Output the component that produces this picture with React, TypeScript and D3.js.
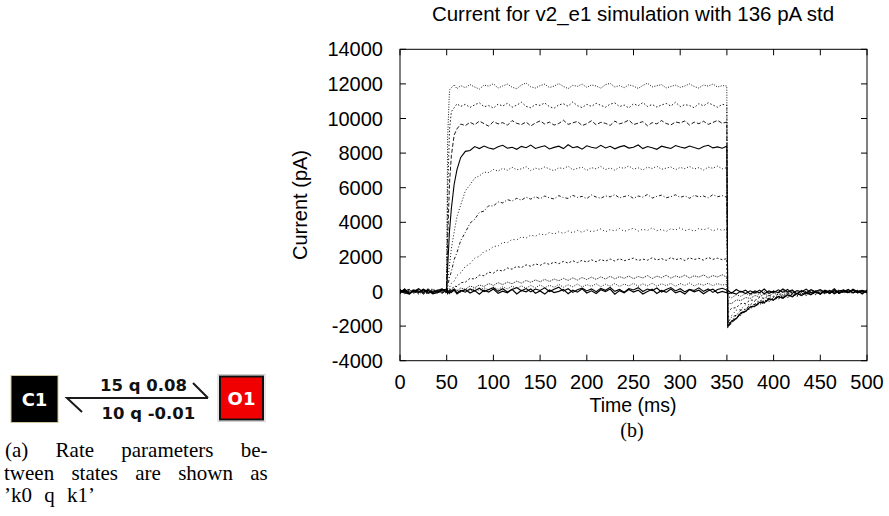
import React from "react";
import * as d3 from "d3";

// Sampling times (ms)
const TIME = [0,5,10,15,20,25,30,35,40,45,49.9,51,53,55,58,61,65,70,75,80,85,90,95,100,105,110,115,120,125,130,135,140,145,150,155,160,165,170,175,180,185,190,195,200,205,210,215,220,225,230,235,240,245,250,255,260,265,270,275,280,285,290,295,300,305,310,315,320,325,330,335,340,345,349.9,351,355,360,365,370,375,380,385,390,395,400,405,410,415,420,425,430,435,440,445,450,455,460,465,470,475,480,485,490,495,500];

// Current traces (pA)
const I_1 = [30,-120,90,-40,150,-180,60,-20,110,-90, 40, 8900,11650,11780,11950,11720,11900,
11780,11960,11820,11700,11930,11870,12010,11760,11880,11990,
11810,11720,11940,12050,11830,11760,11900,11980,11790,11870,
12020,11850,11730,11920,11860,11990,11800,11940,11880,11750,
11960,12030,11820,11900,11780,11950,11870,11740,11910,12040,
11830,11890,11960,11770,11850,11930,11800,11880,12000,11850,
11760,11940,11870,11990,11820,11900, 11880,
-2080,-1760,-1620,-1280,-1190,-900,-880,-640,-700,-450,-520,-300,-410,-180,-330,-90,-250,-40,-210,20,-150,60,-130,90,-120,40,-60,110,-90,30,-50];
const I_2 = [-80,110,-30,70,-150,40,130,-60,-10,90, -50, 5600,9350,10400,10620,10850,10700,
10820,10640,10790,10910,10680,10750,10600,10830,10720,10880,
10650,10770,10940,10700,10620,10810,10760,10900,10680,10590,
10790,10850,10710,10960,10740,10630,10820,10700,10880,10760,
10650,10830,10900,10690,10780,10610,10850,10740,10920,10700,
10810,10660,10780,10870,10720,10940,10690,10800,10750,10620,
10860,10730,10910,10780,10650,10820, 10760,
-1990,-1860,-1490,-1380,-1060,-1010,-760,-770,-540,-590,-380,-440,-250,-350,-160,-280,-100,-230,-50,-180,10,-140,50,-110,70,-90,30,-120,80,-40,20];
const I_3 = [60,-40,-130,100,20,-90,160,-70,40,-110, 70, 3000,6250,7850,9050,9400,9680,
9590,9780,9640,9850,9700,9560,9820,9690,9760,9610,
9880,9720,9650,9800,9570,9740,9860,9680,9790,9620,
9710,9900,9660,9750,9830,9590,9700,9870,9640,9780,
9720,9600,9850,9690,9770,9910,9650,9730,9820,9580,
9760,9690,9880,9710,9630,9800,9740,9860,9620,9790,
9700,9840,9660,9770,9890,9720, 9800,
-2060,-1720,-1580,-1250,-1170,-890,-860,-630,-660,-440,-500,-290,-390,-200,-310,-110,-240,-60,-190,-20,-160,40,-120,60,-100,20,-70,90,-60,50,-30];
const I_4 = [-20,80,-140,50,-60,120,-100,30,-50,140, -30, 1400,3500,4800,6200,7050,7750,
8100,8150,8380,8260,8410,8300,8230,8370,8450,8280,
8340,8220,8390,8310,8460,8270,8350,8420,8240,8330,
8400,8260,8480,8310,8370,8230,8420,8340,8280,8450,
8300,8390,8250,8360,8430,8290,8340,8470,8260,8380,
8310,8220,8400,8330,8270,8440,8350,8290,8410,8320,
8240,8380,8450,8300,8360,8280, 8400,
-2030,-1700,-1560,-1230,-1150,-880,-850,-620,-650,-430,-490,-300,-380,-190,-300,-120,-230,-70,-180,-30,-150,20,-110,40,-90,60,-50,70,-80,30,-10];
const I_5 = [90,-60,40,-120,100,-30,-150,70,10,-80, 20, 620,1520,2480,3450,4330,5000,
5820,6170,6560,6680,6900,6880,7050,6960,7120,7010,
7180,7040,7090,7220,6990,7130,7060,7200,7080,6980,
7150,7110,7240,7030,7120,7190,7000,7160,7090,7230,
7050,7140,7010,7180,7120,7260,7070,7150,7020,7190,
7110,7240,7060,7130,7200,7040,7170,7100,7230,7080,
7160,7020,7190,7120,7250,7090, 7160,
-1840,-1730,-1380,-1280,-990,-950,-710,-720,-500,-550,-340,-410,-230,-330,-150,-260,-90,-210,-40,-170,0,-130,40,-100,50,-80,70,-60,20,-100,40];
const I_6 = [-110,50,130,-70,-20,80,-130,150,-40,60, -60, 270,830,1150,1850,2250,2950,
3420,3950,4180,4570,4650,4960,4940,5180,5120,5310,
5230,5390,5280,5450,5340,5480,5360,5520,5410,5350,
5540,5430,5380,5560,5440,5500,5370,5580,5460,5390,
5530,5470,5600,5410,5490,5550,5380,5520,5450,5610,
5400,5500,5570,5420,5480,5590,5440,5530,5390,5560,
5470,5520,5410,5600,5480,5540, 5450,
-1790,-1480,-1370,-1070,-1020,-770,-750,-540,-580,-380,-430,-260,-340,-170,-270,-100,-220,-50,-170,10,-140,30,-90,80,-70,40,-110,60,-40,90,-20];
const I_7 = [140,-90,20,110,-160,50,-40,-100,120,-20, 30, 120,230,480,600,930,1080,
1450,1610,1930,2030,2310,2380,2600,2630,2840,2820,
3010,2980,3160,3090,3260,3190,3340,3260,3410,3320,
3450,3360,3500,3390,3530,3420,3560,3460,3510,3620,
3450,3580,3500,3640,3480,3570,3660,3490,3600,3530,
3680,3510,3590,3470,3630,3550,3690,3520,3600,3480,
3640,3560,3670,3500,3610,3540, 3600,
-1460,-1390,-1080,-1030,-770,-760,-550,-580,-380,-440,-260,-340,-170,-280,-100,-220,-50,-180,0,-130,60,-110,30,-80,90,-60,40,-90,70,-30,50];
const I_8 = [-50,160,-110,30,80,-140,10,60,-90,130, -40, 50,160,90,320,280,510,
540,760,720,950,910,1120,1060,1250,1180,1360,
1290,1450,1380,1540,1460,1600,1510,1650,1570,1700,
1610,1740,1640,1780,1670,1800,1700,1830,1720,1850,
1750,1880,1760,1900,1780,1850,1930,1790,1870,1810,
1950,1820,1900,1800,1960,1840,1910,1790,1950,1850,
1920,1810,1970,1860,1930,1840, 1900,
-1210,-970,-930,-700,-690,-490,-520,-340,-400,-230,-310,-150,-250,-90,-200,-40,-160,20,-120,50,-90,80,-60,30,-100,60,-50,100,-70,20,-40];
const I_9 = [70,-130,60,-20,140,-80,100,-120,30,-60, 90, -30,110,20,160,50,200,
130,320,220,380,290,460,350,510,400,540,
450,600,480,640,530,670,560,700,580,720,
620,760,640,790,660,810,690,830,700,850,
720,880,730,860,760,900,740,870,780,920,
750,890,800,940,770,900,810,950,780,910,
830,960,790,920,840,970, 820,
-690,-700,-490,-520,-350,-400,-230,-310,-150,-250,-90,-200,-40,-160,10,-130,60,-100,40,-80,90,-50,30,-110,70,-30,100,-60,40,-90,20];
const I_10 = [-140,40,110,-60,20,-110,70,150,-30,10, -100, 60,-80,130,-20,90,-50,
120,20,170,60,210,90,250,120,270,150,
310,170,330,190,350,210,380,220,360,240,
410,250,390,270,430,260,400,300,450,280,
420,310,460,290,430,320,470,300,440,330,
480,310,450,340,470,300,460,350,490,320,
450,360,480,330,460,370, 420,
-300,-360,-190,-280,-110,-230,-60,-180,0,-140,50,-110,70,-90,40,-120,80,-60,110,-40,60,-100,30,-70,90,-20,50,-80,20,-50,70];
const I_11 = [100,-70,-150,90,-40,130,-20,-80,60,150, -20, 80,-110,40,140,-70,60,
-40,150,30,190,-10,120,220,10,160,-30,
110,230,40,170,-20,140,60,210,0,130,
250,20,160,-50,100,200,30,150,-10,180,
70,240,10,120,-40,170,90,220,0,140,
50,200,-30,110,230,30,160,-20,130,60,
210,10,150,-50,120,190, 80,
-140,-60,-150,20,-120,40,-90,80,-130,30,-70,100,-40,120,-110,50,-20,140,-80,10,110,-60,70,-130,20,90,-70,130,-10,60,-90];
const I_12 = [-60,140,-100,10,160,-50,90,-130,-70,80, 130, -120,50,-60,90,-140,20,
110,-90,50,-160,80,-30,140,-110,20,-70,
130,-140,60,-20,150,-100,30,-150,90,-60,
10,120,-130,70,-40,160,-90,40,-120,100,
-10,140,-160,50,-70,120,-30,80,-140,0,
130,-110,60,-50,150,-80,20,-150,110,-20,
70,-130,40,140,-90,10, -70,
60,-100,120,-40,80,-150,30,-70,140,-110,20,-60,150,-30,90,-140,40,-90,110,-20,-130,70,-50,160,-100,0,120,-80,50,-140,90];

const TRACES = [I_1, I_2, I_3, I_4, I_5, I_6, I_7, I_8, I_9, I_10, I_11, I_12];
const DASHES = ["1,1.5", "1.5,2", "4,2", "none", "1,2", "3,2,1,2", "1,2.5", "2,2", "1,1", "1,1.5", "none", "none"];
const WIDTHS = [0.9, 0.9, 0.9, 1.1, 0.9, 0.9, 0.9, 0.9, 0.9, 0.9, 1.1, 1.2];

const X_TICKS = [0, 50, 100, 150, 200, 250, 300, 350, 400, 450, 500];
const Y_TICKS = [-4000, -2000, 0, 2000, 4000, 6000, 8000, 10000, 12000, 14000];

const TITLE = "Current for v2_e1 simulation with 136 pA std";
const X_LABEL = "Time (ms)";
const Y_LABEL = "Current (pA)";
const CAPTION_A = ["(a) Rate parameters be-", "tween states are shown as", "’k0 q k1’"];
const CAPTION_B = "(b)";

const SANS = "'Liberation Sans', Arial, Helvetica, sans-serif";
const SERIF = "'Liberation Serif', 'Times New Roman', serif";
const BOLD = "'DejaVu Sans', sans-serif";

export default function App() {
  const W = 889, H = 516;
  const L = 400, R = 867, T = 49.3, B = 360.7;
  const x = d3.scaleLinear().domain([0, 500]).range([L, R]);
  const y = d3.scaleLinear().domain([-4000, 14000]).range([B, T]);
  const line = d3.line<number>().x((_, i) => x(TIME[i])).y((d) => y(d));
  const tick = 6;

  return (
    <svg width={W} height={H} style={{ position: "absolute", left: 0, top: 0, background: "#fff" }}>
      <rect x={0} y={0} width={W} height={H} fill="#fff" />
      {/* Panel (a) */}
      <g>
        <rect x={11} y={375.5} width={47} height={47} fill="#000" stroke="#cfc6a0" strokeWidth={1} />
        <text x={34.5} y={405.5} fill="#fff" fontFamily={BOLD} fontWeight="bold" fontSize={18} textAnchor="middle">C1</text>
        <rect x={218} y={374.5} width={47} height={47} fill="#fff" stroke="#cfcfcf" strokeWidth={1} />
        <rect x={220} y={376.5} width={43} height={43} fill="#f00000" stroke="#111" strokeWidth={2} />
        <text x={241.5} y={405} fill="#fff" fontFamily={BOLD} fontWeight="bold" fontSize={18} textAnchor="middle">O1</text>
        <path d="M208,398 L67,398 L82,412 M208,398 L193,383" fill="none" stroke="#1a1a1a" strokeWidth={2} />
        <text x={100} y={391} fontFamily={BOLD} fontWeight="bold" fontSize={16.5} fill="#111">15 q 0.08</text>
        <text x={101.5} y={418.5} fontFamily={BOLD} fontWeight="bold" fontSize={16.5} fill="#111">10 q -0.01</text>
        <text x={5} y={457} fontFamily={SERIF} fontSize={21} wordSpacing={22}>{CAPTION_A[0]}</text>
        <text x={4} y={480} fontFamily={SERIF} fontSize={21} wordSpacing={12}>{CAPTION_A[1]}</text>
        <text x={4} y={502} fontFamily={SERIF} fontSize={21} wordSpacing={7}>{CAPTION_A[2]}</text>
      </g>

      {/* Panel (b) */}
      <defs>
        <clipPath id="plotclip">
          <rect x={L} y={T} width={R - L} height={B - T} />
        </clipPath>
      </defs>
      <g clipPath="url(#plotclip)">
        {TRACES.map((tr, k) => (
          <path key={k} d={line(tr) || ""} fill="none" stroke="#000" strokeWidth={WIDTHS[k]}
            strokeDasharray={DASHES[k] === "none" ? undefined : DASHES[k]} />
        ))}
      </g>
      <rect x={L} y={T} width={R - L} height={B - T} fill="none" stroke="#000" strokeWidth={1} />
      {X_TICKS.map((t) => (
        <g key={"x" + t}>
          <line x1={x(t)} x2={x(t)} y1={B} y2={B - tick} stroke="#000" />
          <line x1={x(t)} x2={x(t)} y1={T} y2={T + tick} stroke="#000" />
          <text x={x(t)} y={388.5} fontFamily={SANS} fontSize={20} textAnchor="middle">{t}</text>
        </g>
      ))}
      {Y_TICKS.map((v) => (
        <g key={"y" + v}>
          <line x1={L} x2={L + tick} y1={y(v)} y2={y(v)} stroke="#000" />
          <line x1={R} x2={R - tick} y1={y(v)} y2={y(v)} stroke="#000" />
          <text x={383} y={y(v) + 7} fontFamily={SANS} fontSize={20} textAnchor="end">{v}</text>
        </g>
      ))}
      <text x={633} y={21} fontFamily={SANS} fontSize={20.5} textAnchor="middle">{TITLE}</text>
      <text x={633} y={411.5} fontFamily={SANS} fontSize={19.5} textAnchor="middle">{X_LABEL}</text>
      <text transform={`translate(307,205) rotate(-90)`} fontFamily={SANS} fontSize={20} textAnchor="middle">{Y_LABEL}</text>
      <text x={632} y={437} fontFamily={SERIF} fontSize={20} textAnchor="middle">{CAPTION_B}</text>
    </svg>
  );
}
